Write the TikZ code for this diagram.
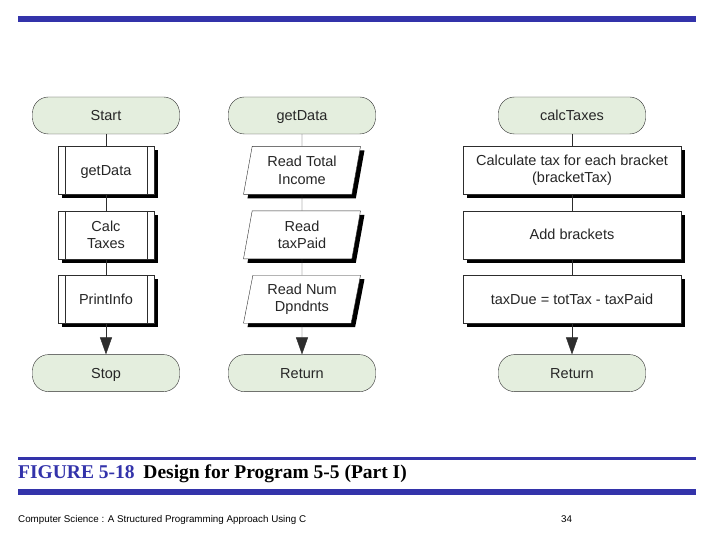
\documentclass[tikz,border=0pt]{standalone}
\usepackage{fontspec}
\setmainfont{Liberation Sans}
\newfontfamily\capfont{Liberation Serif}
\usetikzlibrary{positioning,shapes.geometric,shadows,arrows.meta}
\definecolor{figblue}{RGB}{51,51,170}
\definecolor{termgreen}{RGB}{228,238,222}
\definecolor{linegray}{RGB}{45,45,45}
\tikzset{
  riga/.style={text height=12pt,text depth=1.6pt},
  term/.style={draw=linegray,fill=termgreen,rounded corners=16pt,riga,
    minimum width=147pt,minimum height=37pt},
  ombra/.style={drop shadow={shadow xshift=4pt,shadow yshift=-4pt,fill=black,opacity=1}},
  subproc/.style={draw=linegray,fill=white,ombra,align=center,
    minimum width=96pt,minimum height=48pt,
    path picture={\draw[linegray]
      ([xshift=7pt]path picture bounding box.north west) -- ([xshift=7pt]path picture bounding box.south west)
      ([xshift=-7pt]path picture bounding box.north east) -- ([xshift=-7pt]path picture bounding box.south east);}},
  dati/.style={draw=linegray,fill=white,ombra,align=center,trapezium,
    trapezium left angle=76,trapezium right angle=104,trapezium stretches body,
    minimum width=117pt,minimum height=48pt,inner xsep=2pt},
  proc/.style={draw=linegray,fill=white,ombra,align=center,
    minimum width=218pt,minimum height=48pt},
}

\begin{document}
\begin{tikzpicture}[x=1pt,y=-1pt,font=\fontsize{14.5}{17.5}\selectfont,
  text=black!85,>={Triangle[length=17pt,width=12pt]},node distance=16pt]
  \useasboundingbox (0,0) rectangle (720,540);

  % Bande
  \fill[figblue] (18,16) rectangle (696,22);
  \fill[figblue] (18,457) rectangle (696,459.5);
  \fill[figblue] (18,489) rectangle (696,495);

  % Main
  \node[term] (start) at (106,115.5) {Start};
  \node[subproc,riga,below=12pt of start] (getdata) {getData};
  \node[subproc,below=of getdata] (calc) {Calc\\Taxes};
  \node[subproc,riga,below=of calc] (print) {PrintInfo};
  \node[term,below=31pt of print] (stop) {Stop};

  % getData
  \node[term] (gdstart) at (302,115.5) {getData};
  \node[dati,below=12pt of gdstart] (income) {Read Total\\Income};
  \node[dati,below=of income] (taxpaid) {Read\\taxPaid};
  \node[dati,below=of taxpaid] (dpndnts) {Read Num\\Dpndnts};
  \node[term,below=31pt of dpndnts] (gdret) {Return};

  % calcTaxes
  \node[term] (ctstart) at (572,115.5) {calcTaxes};
  \node[proc,below=12pt of ctstart] (brackets) {Calculate tax for each bracket\\(bracketTax)};
  \node[proc,riga,below=of brackets] (addbr) {Add brackets};
  \node[proc,riga,below=of addbr] (taxdue) {taxDue = totTax - taxPaid};
  \node[term,below=31pt of taxdue] (ctret) {Return};

  % Collegamenti
  \draw[linegray] (start) -- (getdata) (getdata) -- (calc) (calc) -- (print);
  \draw[linegray,->] (print) -- (stop);
  \draw[linegray] (gdstart) -- (income) (income) -- (taxpaid) (taxpaid) -- (dpndnts);
  \draw[linegray,->] (dpndnts) -- (gdret);
  \draw[linegray] (ctstart) -- (brackets) (brackets) -- (addbr) (addbr) -- (taxdue);
  \draw[linegray,->] (taxdue) -- (ctret);

  % Didascalia
  \node[anchor=base west,inner sep=0pt,text=black,
    font=\capfont\fontsize{19.5}{22}\selectfont\bfseries] (caption) at (18,478)
    {\textcolor{figblue}{FIGURE 5-18}\hspace{0.45em}Design for Program 5-5 (Part I)};
  \node[anchor=base west,inner sep=0pt,text=black,font=\fontsize{9.8}{11}\selectfont]
    (footer) at (18,522) {Computer Science : A Structured Programming Approach Using C};
  \node[anchor=base west,inner sep=0pt,text=black,font=\fontsize{9.8}{11}\selectfont]
    (pagenum) at (561,522) {34};
\end{tikzpicture}
\end{document}
